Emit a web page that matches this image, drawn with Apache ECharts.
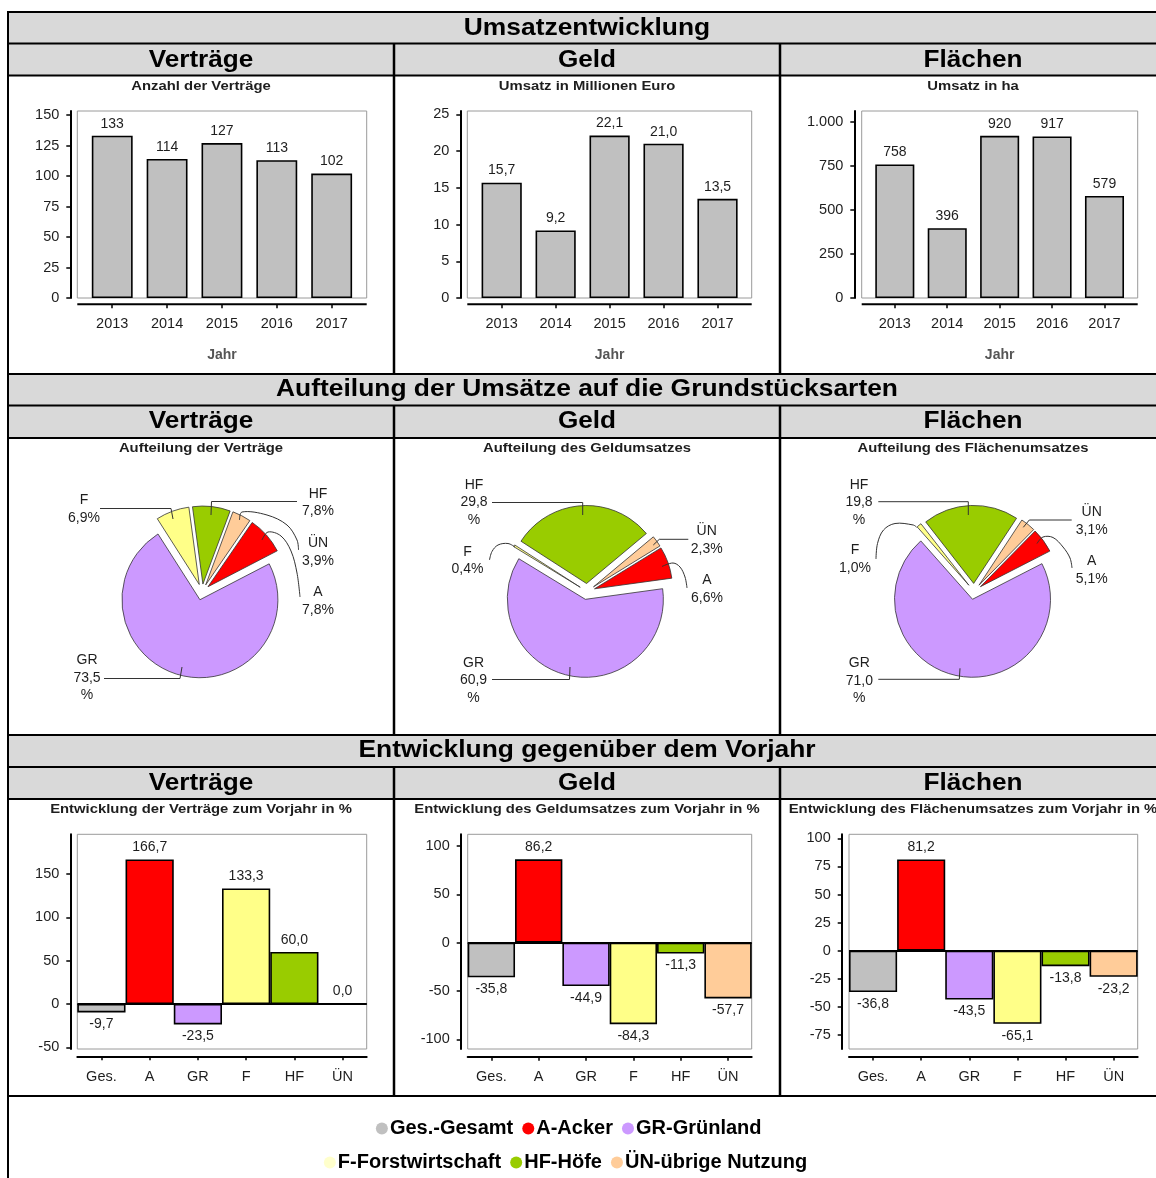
<!DOCTYPE html>
<html>
<head>
<meta charset="utf-8">
<script src="https://cdn.jsdelivr.net/npm/echarts@6/dist/echarts.min.js"></script>
<style>
  html, body { margin: 0; padding: 0; background: #fff; }
  #board { width: 1156px; height: 1178px; }
</style>
</head>
<body>
<div id="board"></div>
<script>
// ---- data ----
const years = ['2013', '2014', '2015', '2016', '2017'];
const contractsPerYear = [133, 114, 127, 113, 102];
const turnoverMioEur = [15.7, 9.2, 22.1, 21.0, 13.5];
const turnoverHa = [758, 396, 920, 917, 579];

const landTypes = ['A', 'GR', 'F', 'HF', 'ÜN'];
const shareContracts = [7.8, 73.5, 6.9, 7.8, 3.9];
const shareMoney = [6.6, 60.9, 0.4, 29.8, 2.3];
const shareArea = [5.1, 71.0, 1.0, 19.8, 3.1];

const changeCategories = ['Ges.', 'A', 'GR', 'F', 'HF', 'ÜN'];
const changeContracts = [-9.7, 166.7, -23.5, 133.3, 60.0, 0.0];
const changeMoney = [-35.8, 86.2, -44.9, -84.3, -11.3, -57.7];
const changeArea = [-36.8, 81.2, -43.5, -65.1, -13.8, -23.2];

const ticksContracts = [0, 25, 50, 75, 100, 125, 150];
const ticksMoney = [0, 5, 10, 15, 20, 25];
const ticksArea = [0, 250, 500, 750, 1000];
const ticksChangeContracts = [-50, 0, 50, 100, 150];
const ticksChangeMoney = [-100, -50, 0, 50, 100];
const ticksChangeArea = [-75, -50, -25, 0, 25, 50, 75, 100];

const legendRows = [
  [['Ges.', 'Ges.-Gesamt'], ['A', 'A-Acker'], ['GR', 'GR-Grünland']],
  [['F', 'F-Forstwirtschaft'], ['HF', 'HF-Höfe'], ['ÜN', 'ÜN-übrige Nutzung']]
];

// ---- styles ----
const FONT = '"Liberation Sans", Arial, Helvetica, sans-serif';
const INK = '#1e1e1e';
const palette = { 'Ges.': '#c0c0c0', A: '#ff0000', GR: '#cc99ff', F: '#ffff88', HF: '#99cc00', 'ÜN': '#ffcc99' };
const legendPalette = { 'Ges.': '#c0c0c0', A: '#ff0000', GR: '#cc99ff', F: '#ffffcc', HF: '#99cc00', 'ÜN': '#ffcc99' };

// German number format: 1.000 / 22,1
function fmtDE(v, dec) {
  const parts = Math.abs(v).toFixed(dec).split('.');
  const intPart = parts[0].replace(/\B(?=(\d{3})+(?!\d))/g, '.');
  return (v < 0 ? '-' : '') + intPart + (parts[1] ? ',' + parts[1] : '');
}

const grids = [], xAxes = [], yAxes = [], series = [], graphics = [];

function text(x, y, str, size, weight, opts) {
  opts = opts || {};
  graphics.push({
    type: 'text', x: x, y: y, scaleX: opts.scaleX || 1, silent: true, z: 5,
    style: {
      text: str, fontSize: size, fontWeight: weight, fontFamily: FONT,
      lineHeight: opts.lineHeight, fill: opts.color || '#000',
      align: opts.align || 'center', textAlign: opts.align || 'center',
      verticalAlign: 'middle', textVerticalAlign: 'middle'
    }
  });
}
function line(x1, y1, x2, y2, w, color) {
  graphics.push({
    type: 'line', silent: true, z: 6,
    shape: { x1: x1, y1: y1, x2: x2, y2: y2 },
    style: { stroke: color || '#000', lineWidth: w }
  });
}
function rect(x, y, w, h, fill, stroke) {
  graphics.push({
    type: 'rect', silent: true, z: 0,
    shape: { x: x, y: y, width: w, height: h },
    style: { fill: fill || 'none', stroke: stroke || null, lineWidth: 1 }
  });
}

// ---- table frame ----
const TL = 8, TR = 1166;
const colX = [TL, 394, 780, TR];
const colCenter = [201, 587, 973];
const sections = [
  { top: 12, sub: 43.5, body: 75.5, end: 374, title: 'Umsatzentwicklung', titleY: 28.3, subY: 60.8 },
  { top: 374, sub: 405.5, body: 438, end: 735, title: 'Aufteilung der Umsätze auf die Grundstücksarten', titleY: 389.6, subY: 421.8 },
  { top: 735, sub: 767, body: 799, end: 1096, title: 'Entwicklung gegenüber dem Vorjahr', titleY: 750.2, subY: 783.6 }
];
const subHeads = ['Verträge', 'Geld', 'Flächen'];
const captions = [
  ['Anzahl der Verträge', 'Umsatz in Millionen Euro', 'Umsatz in ha'],
  ['Aufteilung der Verträge', 'Aufteilung des Geldumsatzes', 'Aufteilung des Flächenumsatzes'],
  ['Entwicklung der Verträge zum Vorjahr in %', 'Entwicklung des Geldumsatzes zum Vorjahr in %', 'Entwicklung des Flächenumsatzes zum Vorjahr in %']
];
const captionY = [86, 448.5, 809.5];

sections.forEach(function (s, si) {
  rect(TL, s.top, TR - TL, s.body - s.top, '#d9d9d9');
  line(TL, s.top, TR, s.top, 2);
  line(TL, s.sub, TR, s.sub, 2);
  line(TL, s.body, TR, s.body, 2);
  for (let c = 1; c < 3; c++) line(colX[c], s.sub, colX[c], s.end, 2.5);
  text(587, s.titleY, s.title, 24, 'bold', { scaleX: 1.1 });
  for (let c = 0; c < 3; c++) {
    text(colCenter[c], s.subY, subHeads[c], 24, 'bold', { scaleX: 1.09 });
    text(colCenter[c], captionY[si], captions[si][c], 13.5, 'bold', { scaleX: 1.1, color: INK });
  }
});
line(TL, 1096, TR, 1096, 2);
line(TL, 11, TL, 1178, 2);

// ---- yearly bar charts ----
const topCharts = [
  { values: contractsPerYear, dec: 0, ticks: ticksContracts, yMax: 153.3, box: [77.3, 111, 366.7, 298], plot: [84.8, 359.1], axisX: 70.3, baseY: 304.3 },
  { values: turnoverMioEur, dec: 1, ticks: ticksMoney, yMax: 25.45, box: [467.3, 111, 751.7, 298], plot: [474.7, 744.5], axisX: 460.3, baseY: 304.3 },
  { values: turnoverHa, dec: 0, ticks: ticksArea, yMax: 1061, box: [861.7, 111, 1137.7, 298], plot: [868.6, 1130.7], axisX: 854.3, baseY: 304.3 }
];

function yAxisFor(gi, min, max, ticks, offset) {
  return {
    type: 'value', gridIndex: gi, min: min, max: max, offset: offset,
    axisLine: { show: true, onZero: false, lineStyle: { color: '#000', width: 2 } },
    axisTick: { show: true, length: 4, customValues: ticks, lineStyle: { color: '#000', width: 1.5 } },
    axisLabel: { customValues: ticks, margin: 11, fontSize: 14.5, color: INK, fontFamily: FONT, formatter: function (v) { return fmtDE(v, 0); } },
    splitLine: { show: false }
  };
}

topCharts.forEach(function (c) {
  const gi = grids.length;
  const b = c.box;
  grids.push({ left: c.plot[0], top: b[1], width: c.plot[1] - c.plot[0], height: b[3] - b[1], containLabel: false });
  rect(b[0], b[1], b[2] - b[0], b[3] - b[1], 'none', '#9a9a9a');
  line(b[0], c.baseY, b[2], c.baseY, 2);
  xAxes.push({
    type: 'category', gridIndex: gi, data: years, offset: c.baseY - b[3],
    axisLine: { show: false, onZero: false },
    axisTick: { show: true, alignWithLabel: true, length: 4, lineStyle: { color: '#000', width: 1.5 } },
    axisLabel: { margin: 12.5, fontSize: 14.5, color: INK, fontFamily: FONT },
    name: 'Jahr', nameLocation: 'middle', nameGap: 44,
    nameTextStyle: { fontSize: 14, fontWeight: 'bold', color: '#555', fontFamily: FONT }
  });
  yAxes.push(yAxisFor(gi, 0, c.yMax, c.ticks, c.plot[0] - c.axisX));
  series.push({
    type: 'bar', xAxisIndex: gi, yAxisIndex: gi, data: c.values,
    barCategoryGap: '25.5%',
    itemStyle: { color: '#c0c0c0', borderColor: '#000', borderWidth: 1.6 },
    label: { show: true, position: 'top', distance: 5, fontSize: 14, color: INK, fontFamily: FONT,
      formatter: (function (dec) { return function (p) { return fmtDE(p.value, dec); }; })(c.dec) },
    emphasis: { disabled: true }, silent: true
  });
});

// ---- change vs. previous year ----
const bottomCharts = [
  { values: changeContracts, ticks: ticksChangeContracts, yMin: -51.9, yMax: 195.8, box: [77.3, 834.3, 366.7, 1049], axisX: 70.3, baseY: 1056.3 },
  { values: changeMoney, ticks: ticksChangeMoney, yMin: -110, yMax: 112.1, box: [467.7, 834.3, 751.7, 1049], axisX: 460.7, baseY: 1056.7 },
  { values: changeArea, ticks: ticksChangeArea, yMin: -87.5, yMax: 103.6, box: [849, 834.3, 1137.7, 1049], axisX: 841.7, baseY: 1056.5 }
];

bottomCharts.forEach(function (c) {
  const gi = grids.length;
  const b = c.box;
  grids.push({ left: b[0], top: b[1], width: b[2] - b[0], height: b[3] - b[1], show: true,
    borderColor: '#9a9a9a', borderWidth: 1, backgroundColor: 'transparent' });
  xAxes.push({
    type: 'category', gridIndex: gi, data: changeCategories, offset: c.baseY - b[3],
    axisLine: { show: true, onZero: false, lineStyle: { color: '#000', width: 2 } },
    axisTick: { show: true, alignWithLabel: true, length: 4, lineStyle: { color: '#000', width: 1.5 } },
    axisLabel: { margin: 13, fontSize: 14.5, color: INK, fontFamily: FONT }
  });
  yAxes.push(yAxisFor(gi, c.yMin, c.yMax, c.ticks, b[0] - c.axisX));
  series.push({
    type: 'bar', xAxisIndex: gi, yAxisIndex: gi,
    data: c.values.map(function (v, i) {
      return { value: v, itemStyle: { color: palette[changeCategories[i]] }, label: { position: v < 0 ? 'bottom' : 'top' } };
    }),
    barCategoryGap: '0%',
    itemStyle: { borderColor: '#000', borderWidth: 1.6 },
    label: { show: true, distance: 5, fontSize: 14, color: INK, fontFamily: FONT,
      formatter: function (p) { return fmtDE(p.value, 1); } },
    markLine: { silent: true, symbol: 'none', label: { show: false },
      lineStyle: { color: '#000', width: 2, type: 'solid' }, data: [{ yAxis: 0 }] },
    emphasis: { disabled: true }, silent: true
  });
});

// ---- pies: label anchors and leader paths ----
const pies = [
  { values: shareContracts, center: [202, 592], startAngle: 55.5, labels: [
      { pos: [318, 601], smooth: 0.35, line: [[262, 540], [268, 532], [281, 536], [291, 551], [297, 573], [300, 597]] },
      { pos: [87, 678], line: [[182, 667], [180, 678.5], [104, 678.5]] },
      { pos: [84, 509], line: [[173, 519], [171, 508.5], [100, 508.5]] },
      { pos: [318, 502.5], line: [[211, 515], [211.5, 501.5], [297, 501.5]] },
      { pos: [318, 552], smooth: 0.35, line: [[239.5, 520], [242, 512], [267, 515], [287, 525], [297, 540], [298.5, 550]] }
  ] },
  { values: shareMoney, center: [587, 591.5], startAngle: 31.6, labels: [
      { pos: [707, 589], smooth: 0.35, line: [[662, 566.5], [673, 563], [680, 567], [685, 577], [687, 588]] },
      { pos: [473.5, 680.5], line: [[570, 667], [569.5, 679.5], [492, 679.5]] },
      { pos: [467.5, 560.5], smooth: 0.35, line: [[515, 547], [508, 543.5], [498, 545], [492, 551.5], [489.5, 560]] },
      { pos: [474, 502.5], line: [[582.7, 515], [582.7, 502.5], [492, 502.5]] },
      { pos: [706.7, 540.3], line: [[653.3, 545], [659.3, 539.3], [688.3, 539.3]] }
  ] },
  { values: shareArea, center: [974, 591.4], startAngle: 45.5, labels: [
      { pos: [1091.7, 570], smooth: 0.35, line: [[1037, 543.5], [1043, 537], [1053, 537.5], [1063, 547], [1070, 558], [1072, 568]] },
      { pos: [859.3, 681], line: [[960, 668.3], [959.3, 679.3], [878.3, 679.3]] },
      { pos: [855, 559], smooth: 0.35, line: [[916.7, 527.3], [913.3, 525], [895, 523.5], [883.5, 530], [877.5, 543.5], [876, 559]] },
      { pos: [859, 502.5], line: [[968.3, 515], [968.3, 501.7], [878.3, 501.7]] },
      { pos: [1091.7, 521], line: [[1023.3, 527.3], [1029.3, 520], [1071.7, 520]] }
  ] }
];

function shareLabel(name, value) {
  const v = fmtDE(value, 1);
  return value >= 10 ? name + '\n' + v + '\n%' : name + '\n' + v + '%';
}

pies.forEach(function (p) {
  series.push({
    type: 'pie', center: p.center, radius: 78, startAngle: p.startAngle, clockwise: true,
    selectedMode: 'multiple', selectedOffset: 8, avoidLabelOverlap: false,
    silent: true, emphasis: { disabled: true },
    itemStyle: { borderColor: '#333', borderWidth: 0.8 },
    label: { show: false },
    labelLine: { show: false },
    data: landTypes.map(function (t, i) {
      return { name: t, value: p.values[i], selected: true, itemStyle: { color: palette[t] } };
    })
  });
  // slice captions with leader lines
  landTypes.forEach(function (t, i) {
    const L = p.labels[i];
    graphics.push({
      type: 'polyline', silent: true, z: 7,
      shape: { points: L.line, smooth: L.smooth || 0 },
      style: { stroke: '#333', lineWidth: 1, fill: null }
    });
    text(L.pos[0], L.pos[1], shareLabel(t, p.values[i]), 14, 'normal', { color: INK, lineHeight: 17.5 });
  });
});

// ---- legend rows (dot + text) ----
const measureCtx = document.createElement('canvas').getContext('2d');
measureCtx.font = 'bold 20px ' + FONT;
const legendCenters = [[568.7, 1128.4], [565.5, 1162.6]];
legendRows.forEach(function (row, ri) {
  const DOT = 12, GAP_IN = 2, GAP_OUT = 9;
  const widths = row.map(function (it) { return measureCtx.measureText(it[1]).width; });
  let total = 0;
  widths.forEach(function (w, i) { total += DOT + GAP_IN + w + (i < widths.length - 1 ? GAP_OUT : 0); });
  let x = legendCenters[ri][0] - total / 2;
  const y = legendCenters[ri][1];
  row.forEach(function (it, i) {
    graphics.push({ type: 'circle', silent: true, z: 5, shape: { cx: x + DOT / 2, cy: y, r: DOT / 2 },
      style: { fill: legendPalette[it[0]] } });
    x += DOT + GAP_IN;
    text(x, y, it[1], 20, 'bold', { align: 'left' });
    x += widths[i] + GAP_OUT;
  });
});

const chart = echarts.init(document.getElementById('board'), null, { renderer: 'canvas' });
chart.setOption({
  animation: false,
  backgroundColor: '#ffffff',
  textStyle: { fontFamily: FONT },
  grid: grids,
  xAxis: xAxes,
  yAxis: yAxes,
  series: series,
  graphic: { elements: graphics }
});
</script>
</body>
</html>
